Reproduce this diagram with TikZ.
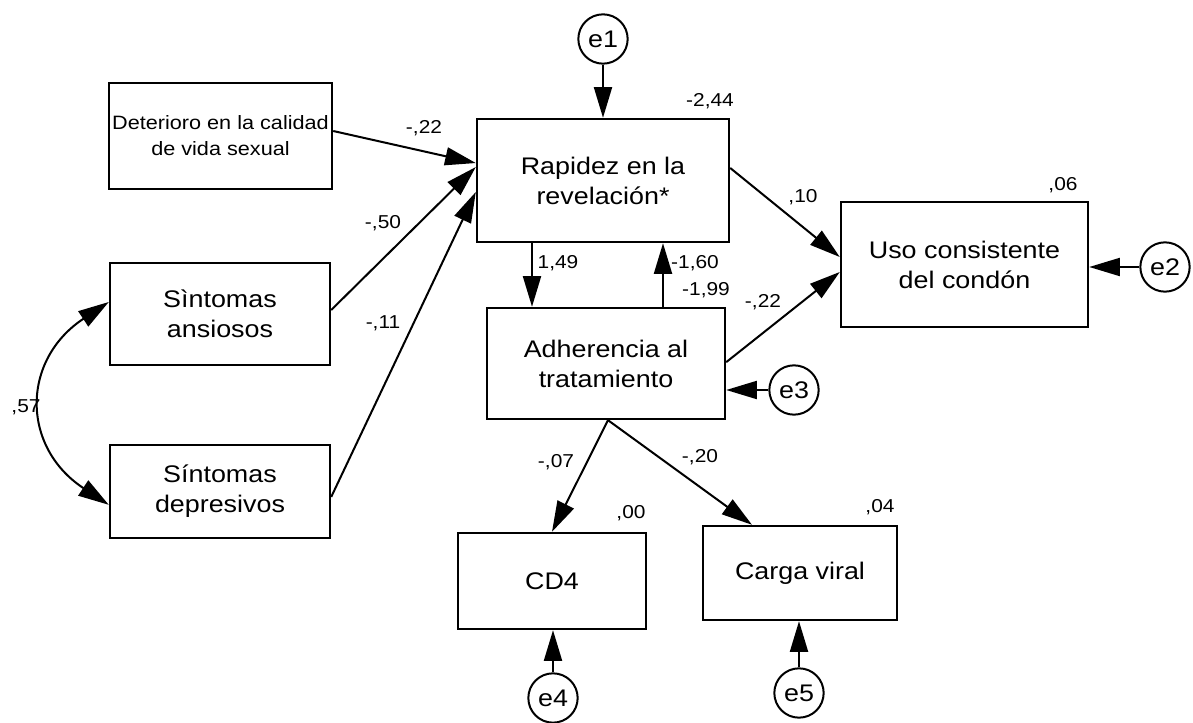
\documentclass[tikz,border=0pt]{standalone}
\usepackage{fontspec}
\setmainfont{Liberation Sans}[FakeStretch=1.12]
\usetikzlibrary{arrows.meta}
\begin{document}
\begin{tikzpicture}[x=0.75pt,y=-0.75pt,
  box/.style={draw, line width=1.8pt, align=center, inner sep=0pt, font=\fontsize{18}{22.5}\selectfont},
  err/.style={draw, circle, line width=1.5pt, minimum size=37pt, inner sep=0pt, font=\fontsize{18}{20}\selectfont},
  arr/.style={line width=1.5pt, -{Triangle[length=23pt,width=13.5pt]}},
  arrb/.style={line width=1.5pt, {Triangle[length=23pt,width=13.5pt]}-{Triangle[length=23pt,width=13.5pt]}},
  lbl/.style={font=\fontsize{14}{16}\selectfont, inner sep=0pt}]
\useasboundingbox (0,0) rectangle (1193,723);

% boxes
\node[box, minimum width=167.25pt, minimum height=79.5pt, font=\fontsize{14.5}{19.5}\selectfont] (det) at (220.5,136) {Deterioro en la calidad\\de vida sexual};
\node[box, minimum width=189pt, minimum height=92.25pt] (rap) at (603,180.5) {Rapidez en la\\revelación*};
\node[box, minimum width=178.5pt, minimum height=83.25pt] (adh) at (606,363.5) {Adherencia al\\tratamiento};
\node[box, minimum width=185.25pt, minimum height=93.75pt] (uso) at (964.5,264.5) {Uso consistente\\del condón};
\node[box, minimum width=165pt, minimum height=76.5pt] (ans) at (220,314) {Sìntomas\\ansiosos};
\node[box, minimum width=165pt, minimum height=69.75pt] (dep) at (220,491.5) {Síntomas\\depresivos};
\node[box, minimum width=141pt, minimum height=72pt] (cd4) at (552,581) {CD4};
\node[box, minimum width=145.5pt, minimum height=70.5pt] (cv) at (800,573) {Carga viral};

% error terms
\node[err] (e1) at (603,39) {e1};
\node[err] (e2) at (1165,267) {e2};
\node[err] (e3) at (794,390) {e3};
\node[err] (e4) at (553,698) {e4};
\node[err] (e5) at (799,693) {e5};

% paths
\draw[arr] ([yshift=3.75pt]det.east) -- ([yshift=13.1pt]rap.west);
\draw[arr] ([yshift=3pt]ans.east) -- ([yshift=10.1pt]rap.west);
\draw[arr] ([yshift=-4.1pt]dep.east) -- ([yshift=-8.6pt]rap.west);
\draw[arr] ([xshift=-53.25pt]rap.south) -- ([xshift=-53.25pt]rap.south |- adh.north);
\draw[arr] ([xshift=45pt]rap.south |- adh.north) -- ([xshift=45pt]rap.south);
\draw[arr] ([yshift=9.4pt]rap.east) -- ([yshift=5.6pt]uso.west);
\draw[arr] ([yshift=1pt]adh.east) -- ([yshift=-5.6pt]uso.west);
\draw[arr] (e1.south) -- (rap.north);
\draw[arr] (e2.west) -- (uso.east |- e2.west);
\draw[arr] (e3.west) -- (adh.east |- e3.west);
\draw[arr] ([xshift=1.5pt]adh.south) -- (cd4.north);
\draw[arr] ([xshift=1.5pt]adh.south) -- ([xshift=-36pt]cv.north);
\draw[arr] (e4.north) -- (e4.north |- cd4.south);
\draw[arr] (e5.north) -- (e5.north |- cv.south);
\draw[arrb] ([yshift=9pt]ans.west) .. controls (21,360) and (21,447) .. ([yshift=-10pt]dep.west);

% labels
\node[lbl] (l1) at (424,128) {-,22};
\node[lbl] (l2) at (383,223) {-,50};
\node[lbl] (l3) at (383,323) {-,11};
\node[lbl] (l4) at (26,407) {,57};
\node[lbl] (l5) at (710,101) {-2,44};
\node[lbl] (l6) at (558,263) {1,49};
\node[lbl] (l7) at (695,263) {-1,60};
\node[lbl] (l8) at (706,290) {-1,99};
\node[lbl] (l9) at (803,197) {,10};
\node[lbl] (l10) at (763,302) {-,22};
\node[lbl] (l11) at (1063,185) {,06};
\node[lbl] (l12) at (556,462) {-,07};
\node[lbl] (l13) at (700,457) {-,20};
\node[lbl] (l14) at (631,513) {,00};
\node[lbl] (l15) at (880,507) {,04};
\end{tikzpicture}
\end{document}
